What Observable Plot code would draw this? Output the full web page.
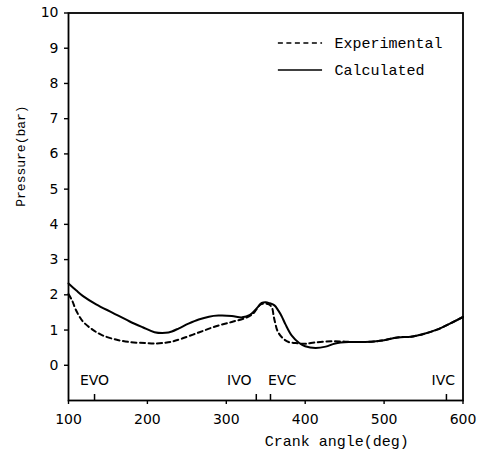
<!DOCTYPE html>
<html>
<head>
<meta charset="utf-8">
<script src="https://cdn.jsdelivr.net/npm/d3@7"></script>
<script src="https://cdn.jsdelivr.net/npm/@observablehq/plot@0.6"></script>
<style>
  html, body { margin: 0; padding: 0; background: #fff; }
  #chart svg { display: block; }
</style>
</head>
<body>
<div id="chart"></div>
<script>
// Cylinder pressure over the exhaust/intake stroke, calculated vs. measured
const calcAngle = [100, 110, 118, 135, 156, 177, 194, 209, 223, 231, 240, 252, 265, 278, 290, 307, 320, 330, 339, 345, 350, 355, 361, 366, 370, 375, 383, 392, 400, 413, 426, 438, 455, 476, 490, 500, 517, 534, 550, 567, 584, 600];
const calcPressure = [2.32, 2.12, 1.97, 1.73, 1.49, 1.25, 1.08, 0.94, 0.92, 0.96, 1.05, 1.18, 1.30, 1.38, 1.41, 1.40, 1.36, 1.43, 1.63, 1.77, 1.79, 1.76, 1.70, 1.55, 1.40, 1.16, 0.84, 0.64, 0.54, 0.49, 0.53, 0.62, 0.66, 0.66, 0.68, 0.71, 0.79, 0.81, 0.89, 1.01, 1.19, 1.37];

const expAngle = [100, 105, 109, 118, 130, 143, 160, 177, 198, 212, 223, 231, 244, 265, 286, 307, 324, 333, 338, 343, 348, 354, 358, 360, 362, 365, 371, 379, 388, 400, 413, 434, 451, 468, 490, 500, 517, 534, 550, 567, 584, 600];
const expPressure = [2.02, 1.82, 1.59, 1.25, 1.02, 0.85, 0.73, 0.66, 0.63, 0.62, 0.64, 0.67, 0.76, 0.93, 1.10, 1.23, 1.34, 1.45, 1.58, 1.72, 1.75, 1.73, 1.63, 1.40, 1.20, 0.97, 0.78, 0.66, 0.63, 0.61, 0.65, 0.68, 0.67, 0.66, 0.68, 0.71, 0.79, 0.81, 0.89, 1.01, 1.19, 1.37];

// Valve timing events (crank angle, deg)
const eventNames = ["EVO", "IVO", "EVC", "IVC"];
const eventAngles = [133, 338, 356, 579];

const xTicks = [100, 200, 300, 400, 500, 600];
const yTicks = [0, 1, 2, 3, 4, 5, 6, 7, 8, 9, 10];

const seriesNames = ["Experimental", "Calculated"];

const calc = calcAngle.map((a, i) => ({angle: a, p: calcPressure[i]}));
const exp = expAngle.map((a, i) => ({angle: a, p: expPressure[i]}));
const events = eventNames.map((n, i) => ({name: n, angle: eventAngles[i]}));

// label placement for the valve events: IVO sits left of its tick, EVC right of its tick
const eventLabelX = {EVO: 133, IVO: 332, EVC: 353, IVC: 575};
const centered = events.filter((d) => d.name === "EVO" || d.name === "IVC");
const leftOf = events.filter((d) => d.name === "IVO");
const rightOf = events.filter((d) => d.name === "EVC");

const mono = "'Liberation Mono', 'DejaVu Sans Mono', monospace";
const sans = "'DejaVu Sans', sans-serif";
const dash = "5,3.5";

// legend rows in the upper right of the frame
const legendY = [9.15, 8.38];
const legendExp = [{name: seriesNames[0], y: legendY[0]}];
const legendCalc = [{name: seriesNames[1], y: legendY[1]}];
const legendRows = [...legendExp, ...legendCalc];

const eventText = (data, anchor) => Plot.text(data, {
  x: (d) => eventLabelX[d.name],
  y: -0.43,
  text: "name",
  textAnchor: anchor,
  fontSize: 14,
  fill: "#000"
});

const chart = Plot.plot({
  width: 481,
  height: 460,
  marginLeft: 68,
  marginRight: 18.5,
  marginTop: 12.5,
  marginBottom: 60,
  style: {fontFamily: sans, fontSize: "14px", color: "#000", background: "#fff"},
  x: {domain: [100, 600]},
  y: {domain: [-1, 10]},
  marks: [
    Plot.axisX({ticks: xTicks, tickSize: 4, tickPadding: 10, label: null, fontSize: 14, strokeWidth: 1.4}),
    Plot.axisY({ticks: yTicks, tickSize: 4, tickPadding: 6, label: null, fontSize: 14, strokeWidth: 1.4}),
    Plot.frame({stroke: "#000", strokeWidth: 1.8}),
    // valve event ticks pointing up from the x axis
    Plot.ruleX(events, {x: "angle", y1: -1, y2: -0.83, stroke: "#000", strokeWidth: 1.5}),
    eventText(centered, "middle"),
    eventText(leftOf, "end"),
    eventText(rightOf, "start"),
    Plot.line(exp, {x: "angle", y: "p", stroke: "#000", strokeWidth: 2, strokeDasharray: dash, curve: "catmull-rom"}),
    Plot.line(calc, {x: "angle", y: "p", stroke: "#000", strokeWidth: 2, curve: "catmull-rom"}),
    // legend
    Plot.ruleY(legendExp, {y: "y", x1: 366, x2: 422, stroke: "#000", strokeWidth: 1.5, strokeDasharray: dash}),
    Plot.ruleY(legendCalc, {y: "y", x1: 366, x2: 422, stroke: "#000", strokeWidth: 1.5}),
    Plot.text(legendRows, {x: 437, y: "y", text: "name", textAnchor: "start", fontFamily: mono, fontSize: 15, fill: "#000"}),
    // axis titles
    Plot.text(["Crank angle(deg)"], {x: 440, frameAnchor: "bottom", dy: 45, text: (d) => d, fontFamily: mono, fontSize: 15, fill: "#000"}),
    Plot.text(["Pressure(bar)"], {frameAnchor: "left", dx: -48, rotate: -90, text: (d) => d, fontFamily: mono, fontSize: 13, fill: "#000"})
  ]
});

document.getElementById("chart").append(chart);
</script>
</body>
</html>
